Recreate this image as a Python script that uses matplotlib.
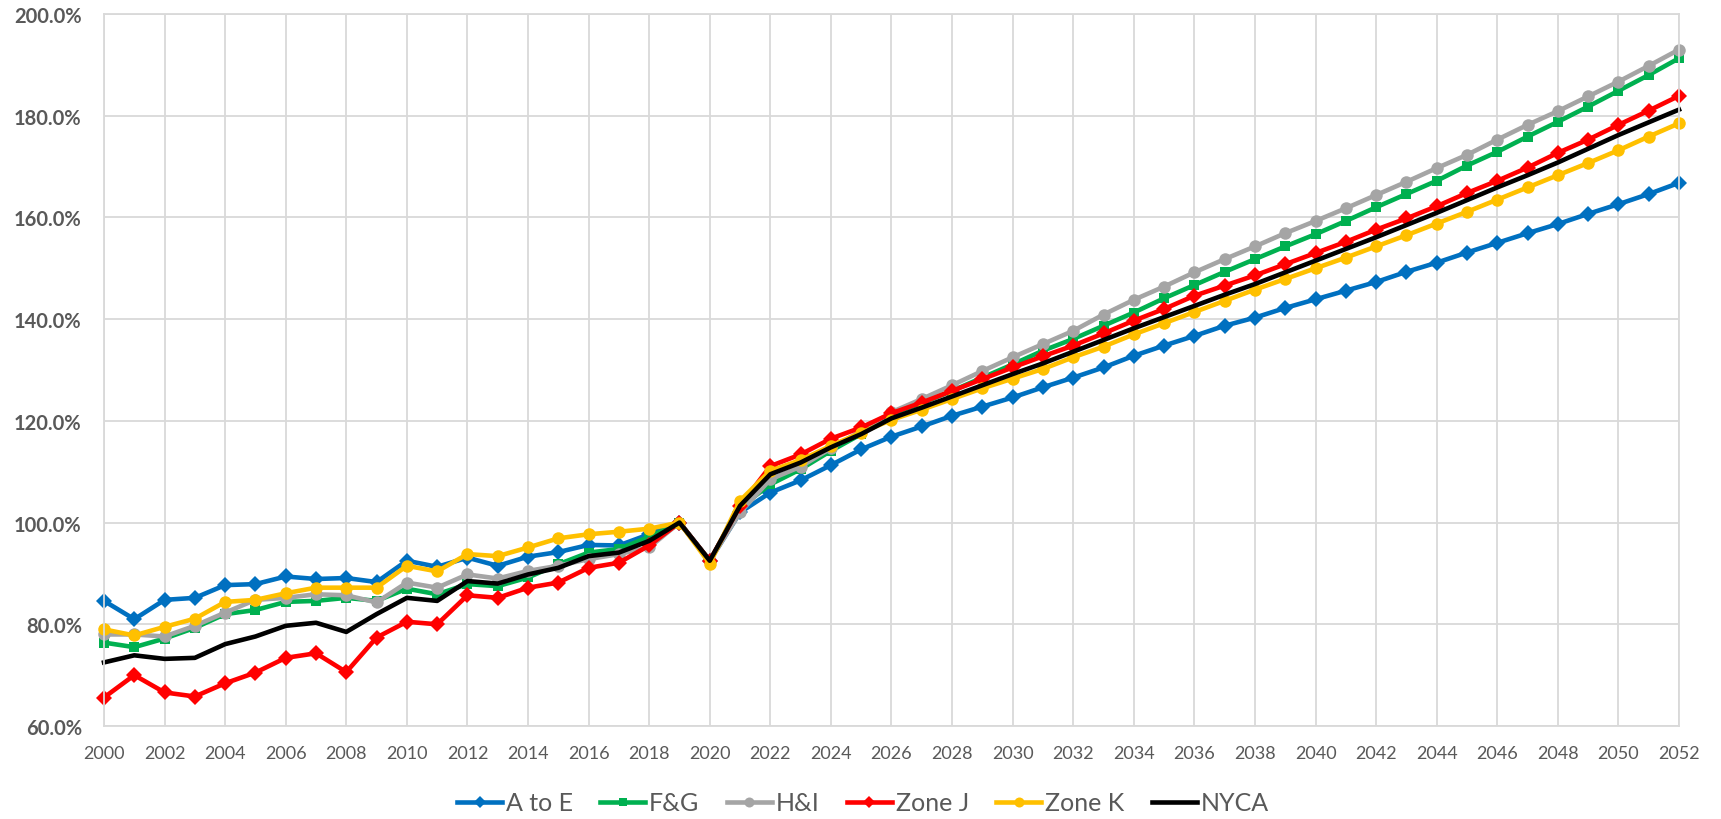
import matplotlib
matplotlib.use("Agg")
import matplotlib.pyplot as plt
from matplotlib.ticker import FuncFormatter, MultipleLocator

plt.rcParams['font.family'] = ['Lato', 'DejaVu Sans']

years = list(range(2000, 2053))

a_to_e = [84.6, 81.0, 84.8, 85.2, 87.7, 87.9, 89.4, 88.9, 89.1, 88.3, 92.5, 91.3, 93.1, 91.5, 93.3,
          94.2, 95.6, 95.5, 97.7, 100.0, 92.5, 102.0, 105.9, 108.3, 111.3, 114.4, 116.9, 118.9, 121.0,
          122.8, 124.6, 126.6, 128.5, 130.5, 132.8, 134.8, 136.7, 138.7, 140.3, 142.2, 143.9, 145.6,
          147.3, 149.3, 151.1, 153.1, 155.0, 156.9, 158.7, 160.7, 162.6, 164.6, 166.8]
f_g = [76.4, 75.5, 77.2, 79.3, 82.0, 82.8, 84.4, 84.6, 85.2, 84.6, 87.0, 85.9, 87.9, 87.5, 89.2,
       91.8, 94.1, 94.8, 97.2, 100.0, 92.5, 103.0, 107.5, 110.5, 114.1, 117.4, 121.3, 123.5, 125.9,
       128.5, 131.1, 133.8, 136.1, 138.7, 141.3, 144.1, 146.7, 149.3, 151.8, 154.3, 156.7, 159.3,
       162.0, 164.6, 167.2, 170.2, 172.9, 175.9, 178.8, 181.8, 184.9, 188.0, 191.3]
h_i = [78.0, 78.0, 77.6, 79.7, 82.3, 84.8, 85.2, 85.9, 85.7, 84.3, 88.2, 87.2, 89.8, 89.0, 90.5,
       91.5, 92.8, 93.8, 95.1, 100.0, 92.5, 102.0, 108.5, 111.0, 114.6, 118.0, 121.7, 124.3, 127.0,
       129.8, 132.5, 135.1, 137.7, 140.9, 143.8, 146.4, 149.2, 151.8, 154.3, 156.9, 159.3, 161.8,
       164.4, 167.0, 169.7, 172.3, 175.3, 178.2, 180.9, 183.8, 186.7, 189.8, 193.0]
zone_j = [65.6, 70.0, 66.6, 65.8, 68.4, 70.5, 73.4, 74.3, 70.6, 77.4, 80.5, 80.0, 85.7, 85.2, 87.2,
          88.2, 91.1, 92.1, 95.5, 100.0, 92.5, 103.3, 111.1, 113.4, 116.5, 118.7, 121.5, 123.6, 125.9,
          128.2, 130.5, 132.7, 134.8, 137.2, 139.7, 142.0, 144.6, 146.6, 148.6, 150.8, 153.0, 155.2,
          157.6, 159.8, 162.2, 164.8, 167.2, 169.8, 172.7, 175.3, 178.2, 181.0, 183.9]
zone_k = [79.0, 77.8, 79.5, 81.1, 84.4, 84.8, 86.1, 87.2, 87.2, 87.2, 91.5, 90.4, 93.8, 93.4, 95.1,
          96.9, 97.7, 98.2, 98.8, 100.0, 91.9, 104.3, 110.2, 112.3, 115.1, 117.7, 120.2, 122.2, 124.3,
          126.4, 128.3, 130.2, 132.5, 134.6, 137.0, 139.2, 141.4, 143.6, 145.8, 147.9, 150.0, 152.1,
          154.3, 156.5, 158.8, 161.1, 163.5, 165.9, 168.3, 170.7, 173.2, 175.9, 178.5]
nyca = [72.5, 73.9, 73.2, 73.4, 76.1, 77.6, 79.7, 80.3, 78.5, 82.0, 85.2, 84.6, 88.5, 88.0, 89.8,
        91.1, 93.4, 94.1, 96.4, 100.0, 92.5, 103.3, 109.5, 111.8, 114.8, 117.4, 120.5, 122.6, 124.8,
        127.0, 129.2, 131.3, 133.6, 135.9, 138.2, 140.4, 142.6, 144.8, 146.9, 149.2, 151.5, 153.8,
        156.1, 158.5, 160.9, 163.4, 165.9, 168.3, 170.8, 173.5, 176.2, 178.7, 181.2]

series = [
    ("A to E", a_to_e, "#0070C0", "D", 8),
    ("F&G", f_g, "#00B050", "s", 7.5),
    ("H&I", h_i, "#A5A5A5", "o", 9),
    ("Zone J", zone_j, "#FF0000", "D", 8),
    ("Zone K", zone_k, "#FFC000", "o", 9),
    ("NYCA", nyca, "#000000", None, 0),
]

fig = plt.figure(figsize=(17.21, 8.20), dpi=100)
ax = fig.add_axes([104 / 1721, 1 - 727 / 820, (1679 - 104) / 1721, (727 - 15) / 820])

handles = []
for name, vals, color, marker, ms in series:
    h, = ax.plot(years, vals, color=color, lw=3.3, marker=marker, markersize=ms,
                 markeredgewidth=0, label=name, clip_on=False, solid_joinstyle='round')
    handles.append(h)

ax.set_xlim(2000, 2052)
ax.set_ylim(60, 200)
ax.xaxis.set_major_locator(MultipleLocator(2))
ax.yaxis.set_major_locator(MultipleLocator(20))
ax.yaxis.set_major_formatter(FuncFormatter(lambda v, p: f"{v:.1f}%"))
ax.grid(True, color="#D9D9D9", lw=1.3)
ax.set_axisbelow(True)
for s in ax.spines.values():
    s.set_color("#D9D9D9")
    s.set_linewidth(1.3)
ax.tick_params(axis='both', length=0, colors="#595959")
ax.tick_params(axis='x', labelsize=13, pad=14)
ax.tick_params(axis='y', labelsize=14.5, pad=16)
for lbl in ax.get_yticklabels():
    lbl.set_fontweight('bold')

leg = fig.legend(handles=handles, loc='center', bbox_to_anchor=(863 / 1721, 1 - 804 / 820),
                 ncol=6, frameon=False, fontsize=18, handlelength=1.8, handletextpad=0.15,
                 columnspacing=1.1, labelcolor="#595959", markerscale=0.8)

fig.savefig("out.png", dpi=100)
